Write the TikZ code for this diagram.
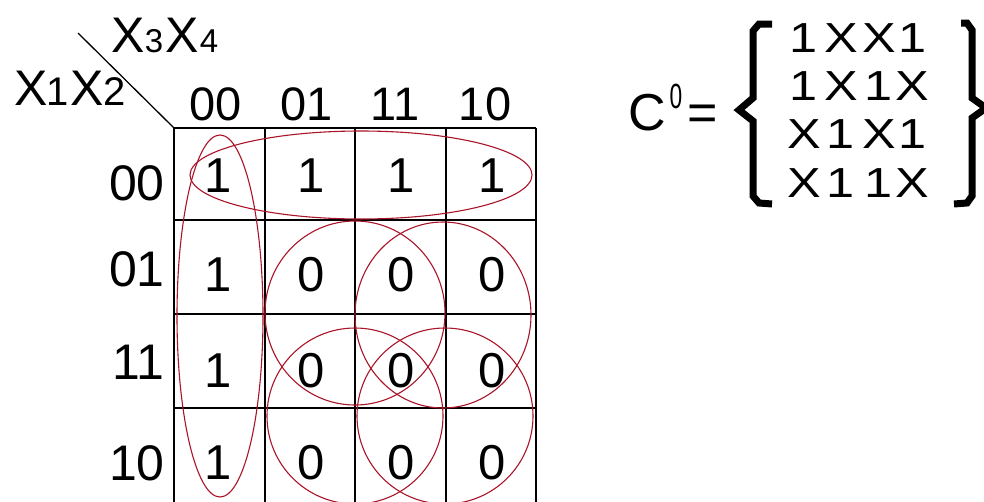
\documentclass[tikz,border=0pt]{standalone}
\usepackage{fontspec}
\setmainfont{Liberation Sans}
\newcommand\fsz[1]{\fontsize{#1}{#1}\selectfont}
\definecolor{loopred}{RGB}{170,20,40}
\begin{document}
\begin{tikzpicture}[x=1pt,y=-1pt,
  txt/.style={inner sep=0pt,anchor=base},
  cellnum/.style={txt,font=\fsz{49}},
  headnum/.style={txt,font=\fsz{47}},
  rownum/.style={inner sep=0pt,anchor=base east,font=\fsz{50}},
  matchar/.style={txt,font=\fsz{42},xscale=1.2},
  gridline/.style={line width=1.8pt,black},
  loop/.style={draw=loopred,line width=1.1pt},
  bracepath/.style={line width=7pt,line join=miter,line cap=butt}]
\useasboundingbox (0,0) rectangle (984,501);
\clip (0,0) rectangle (984,501);
\fill[white] (0,0) rectangle (984,501);

% grid
\coordinate (g0) at (174,128);
\foreach \x in {174,265,355,446,536} \draw[gridline] (\x,128) -- (\x,503);
\foreach \y in {128,220,314,408} \draw[gridline] (174,\y) -- (536,\y);
\coordinate (dg) at (78,33);
\draw[line width=1.3pt] (dg) -- (g0);

% corner labels
\node[txt,font=\fsz{50}] (xa) at (31,105) {X};
\node[txt,font=\fsz{40}] (xa1) at (58,105) {1};
\node[txt,font=\fsz{50}] (xb) at (87,105) {X};
\node[txt,font=\fsz{40}] (xb2) at (115,105) {2};
\node[txt,font=\fsz{50}] (xc) at (128,52) {X};
\node[txt,font=\fsz{33}] (xc3) at (154,52) {3};
\node[txt,font=\fsz{50}] (xd) at (182,52) {X};
\node[txt,font=\fsz{33}] (xd4) at (209,52) {4};

% column headers
\node[headnum] (h1) at (216,120) {00};
\node[headnum] (h2) at (307,120) {01};
\node[headnum] (h3) at (395,120) {11};
\node[headnum] (h4) at (485,120) {10};

% row headers
\node[rownum] (r1) at (165,200) {00};
\node[rownum] (r2) at (165,286) {01};
\node[rownum] (r3) at (165,379) {11};
\node[rownum] (r4) at (165,480) {10};

% cells
\foreach \y/\a/\b/\c/\d [count=\i] in {192/1/1/1/1, 291/1/0/0/0, 387/1/0/0/0, 479/1/0/0/0}{
  \node[cellnum] (c\i a) at (218,\y) {\a};
  \node[cellnum] (c\i b) at (311,\y) {\b};
  \node[cellnum] (c\i c) at (401,\y) {\c};
  \node[cellnum] (c\i d) at (492,\y) {\d};
}

% loops
\draw[loop] (361,175) ellipse [x radius=171, y radius=44];
\draw[loop] (220,316) ellipse [x radius=43, y radius=181];
\draw[loop] (355,313) ellipse [x radius=90, y radius=92];
\draw[loop] (443,315) ellipse [x radius=88, y radius=93];
\draw[loop] (355,416) ellipse [x radius=88, y radius=88];
\draw[loop] (445,416) ellipse [x radius=88, y radius=88];

% formula
\node[txt,font=\fsz{52}] (cc) at (647,130) {C};
\node[txt,font=\fsz{35},xscale=0.65] (c0) at (676,108) {0};
\node[txt,font=\fsz{52}] (eq) at (703,130) {=};

% braces
\draw[bracepath] (772,24) -- (759,24) -- (753,31) -- (753,98) -- (739,110) -- (753,121) -- (753,196) -- (759,203) -- (772,204);
\draw[bracepath] (961,23) -- (967,23) -- (972,30) -- (972,98) -- (986,108) -- (972,118) -- (972,196) -- (967,203) -- (954,204);

% matrix
\foreach \y/\a/\b/\c/\d [count=\i] in {52/1/X/X/1, 100/1/X/1/X, 148/X/1/X/1, 197/X/1/1/X}{
  \node[matchar] (m\i a) at (804,\y) {\a};
  \node[matchar] (m\i b) at (841,\y) {\b};
  \node[matchar] (m\i c) at (879,\y) {\c};
  \node[matchar] (m\i d) at (912,\y) {\d};
}
\end{tikzpicture}
\end{document}
